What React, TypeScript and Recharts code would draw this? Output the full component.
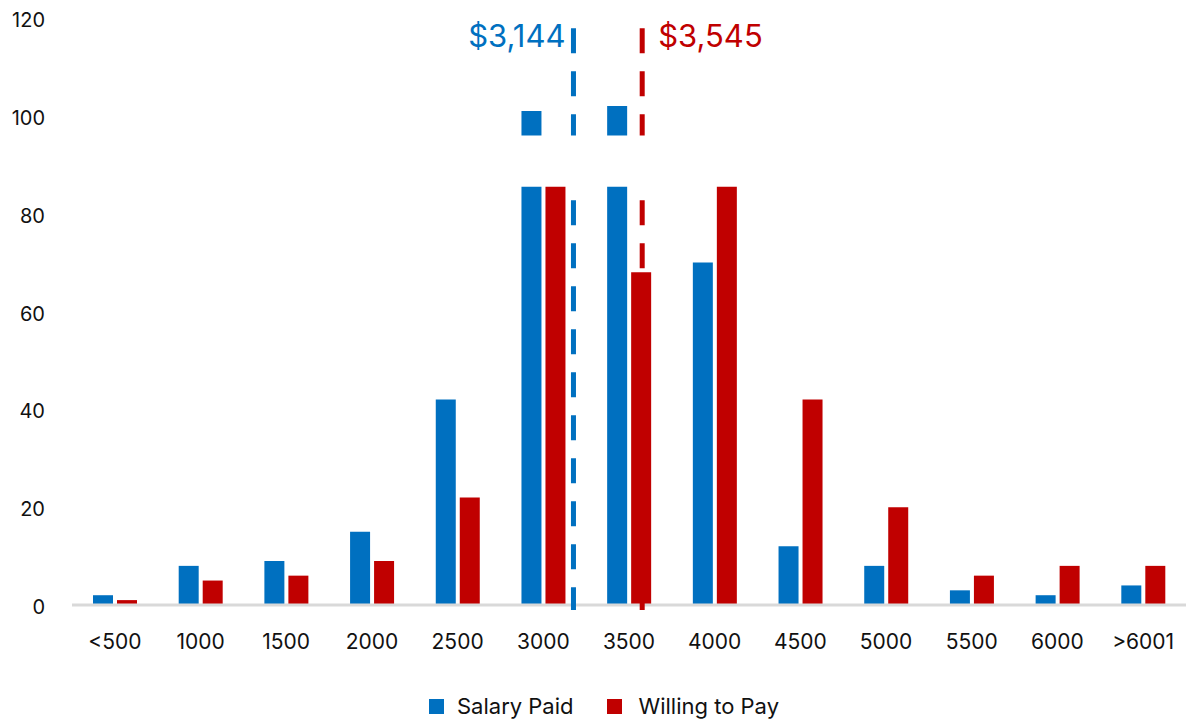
import React from 'react';
import { BarChart, Bar, XAxis, YAxis, Legend, ReferenceLine, ReferenceArea } from 'recharts';

// Salary bins and respondent counts
const BINS = ['<500', '1000', '1500', '2000', '2500', '3000', '3500', '4000', '4500', '5000', '5500', '6000', '>6001'];
const BIN_DOLLARS = [500, 1000, 1500, 2000, 2500, 3000, 3500, 4000, 4500, 5000, 5500, 6000, 6500];
const SALARY_PAID = [2, 8, 9, 15, 42, 101, 102, 70, 12, 8, 3, 2, 4];
const WILLING_TO_PAY = [1, 5, 6, 9, 22, 90, 68, 88, 42, 20, 6, 8, 8];
const Y_TICKS = [0, 20, 40, 60, 80, 100, 120];

// Averages shown as dashed markers
const AVG_PAID = 3144;
const AVG_WILLING = 3545;
const AVG_PAID_LABEL = '$3,144';
const AVG_WILLING_LABEL = '$3,545';

// Axis break drawn as a white band
const BREAK_FROM = 85.5;
const BREAK_TO = 96;

const BLUE = '#0070C0';
const RED = '#C00000';
const FONT = 'Inter, "Noto Sans", sans-serif';

const data = BINS.map((name, i) => ({
  name,
  dollars: BIN_DOLLARS[i],
  paid: SALARY_PAID[i],
  willing: WILLING_TO_PAY[i],
}));

const LegendContent = () => (
  <div style={{ display: 'flex', justifyContent: 'center', alignItems: 'center', height: 26, paddingLeft: 22, fontFamily: FONT, fontSize: 22, color: '#111' }}>
    <span style={{ width: 15, height: 15, background: BLUE, display: 'inline-block', marginRight: 13 }} />
    <span style={{ marginRight: 33 }}>Salary Paid</span>
    <span style={{ width: 15, height: 15, background: RED, display: 'inline-block', marginRight: 17 }} />
    <span>Willing to Pay</span>
  </div>
);

const avgLabel = (text: string, color: string, side: 'left' | 'right') => (props: any) => {
  const { viewBox } = props;
  const x = side === 'left' ? viewBox.x - 8 : viewBox.x + 16;
  return (
    <text x={x} y={viewBox.y + 19} fill={color} fontSize={31} fontFamily={FONT} textAnchor={side === 'left' ? 'end' : 'start'}>
      {text}
    </text>
  );
};

export default function App() {
  return (
    <div style={{ position: 'absolute', left: 0, top: 0, width: 1186, height: 719, background: '#fff' }}>
      <BarChart width={1186} height={719} data={data} margin={{ top: 18, right: 0, bottom: 0, left: 0 }} barSize={20} barGap={4}>
        <XAxis
          dataKey="name"
          xAxisId="bins"
          axisLine={{ stroke: '#d9d9d9', strokeWidth: 3 }}
          tickLine={false}
          tickSize={0}
          tickMargin={29}
          height={88}
          interval={0}
          tick={{ fontSize: 21, fill: '#111', fontFamily: FONT }}
        />
        {/* dollar scale used to place the average markers */}
        <XAxis xAxisId="dollars" dataKey="dollars" type="number" domain={[218, 6718]} allowDataOverflow hide />
        <YAxis
          width={72}
          domain={[0, 120]}
          ticks={Y_TICKS}
          axisLine={false}
          tickLine={false}
          tickSize={0}
          tickMargin={27}
          tick={{ fontSize: 20, fill: '#111', fontFamily: FONT, dy: 2 }}
        />
        <Legend verticalAlign="bottom" content={<LegendContent />} />
        <Bar xAxisId="bins" dataKey="paid" name="Salary Paid" fill={BLUE} isAnimationActive={false} />
        <Bar xAxisId="bins" dataKey="willing" name="Willing to Pay" fill={RED} isAnimationActive={false} />
        <ReferenceLine
          xAxisId="dollars"
          segment={[{ x: AVG_PAID, y: 117.9 }, { x: AVG_PAID, y: -1 }]}
          stroke={BLUE}
          strokeWidth={5}
          strokeDasharray="25 18"
          ifOverflow="visible"
          label={avgLabel(AVG_PAID_LABEL, BLUE, 'left')}
          {...({ zIndex: 1000 } as any)}
        />
        <ReferenceLine
          xAxisId="dollars"
          segment={[{ x: AVG_WILLING, y: 117.9 }, { x: AVG_WILLING, y: -1 }]}
          stroke={RED}
          strokeWidth={5}
          strokeDasharray="25 18"
          ifOverflow="visible"
          label={avgLabel(AVG_WILLING_LABEL, RED, 'right')}
          {...({ zIndex: 1000 } as any)}
        />
        <ReferenceArea
          xAxisId="bins"
          y1={BREAK_FROM}
          y2={BREAK_TO}
          fill="#fff"
          fillOpacity={1}
          stroke="none"
          ifOverflow="visible"
          {...({ zIndex: 1500 } as any)}
        />
      </BarChart>
    </div>
  );
}
